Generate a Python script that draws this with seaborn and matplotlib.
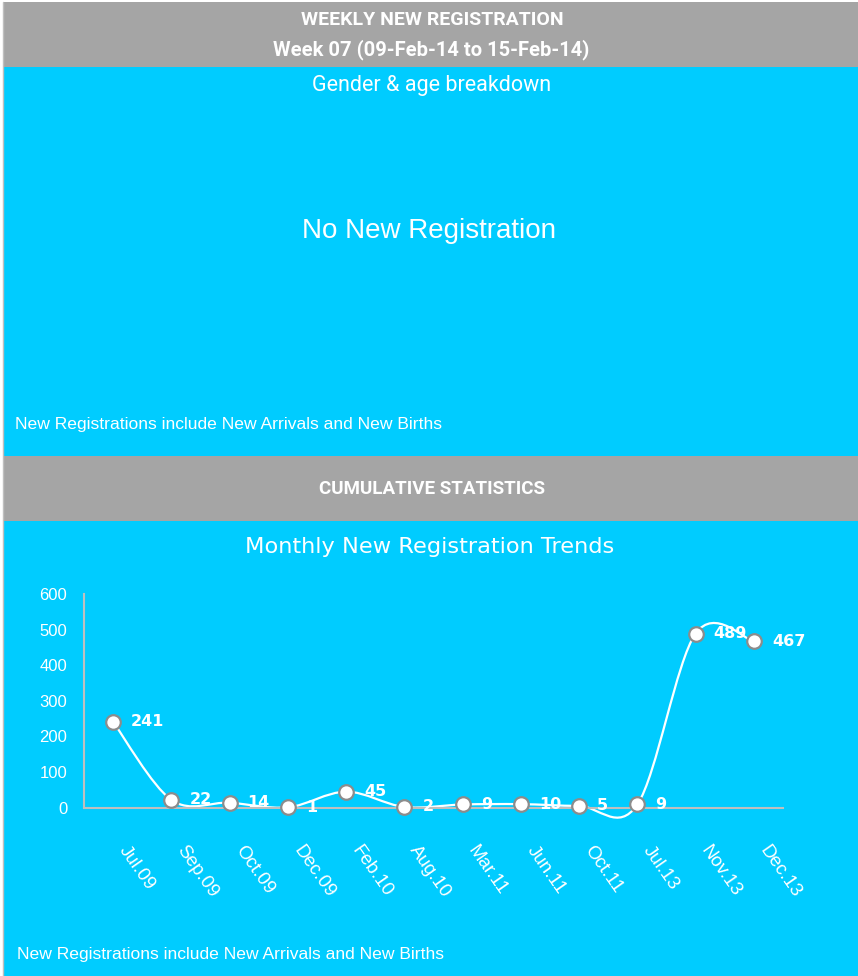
import numpy as np
import pandas as pd
import seaborn as sns
import matplotlib
matplotlib.use("Agg")
import matplotlib.pyplot as plt
from matplotlib.patches import Rectangle, PathPatch
from matplotlib.path import Path
from matplotlib.transforms import ScaledTranslation

# data
months = ["Jul.09", "Sep.09", "Oct.09", "Dec.09", "Feb.10", "Aug.10",
          "Mar.11", "Jun.11", "Oct.11", "Jul.13", "Nov.13", "Dec.13"]
registrations = [241, 22, 14, 1, 45, 2, 9, 10, 5, 9, 489, 467]
y_ticks = [0, 100, 200, 300, 400, 500, 600]

df = pd.DataFrame({"month": months, "count": registrations})

CYAN = "#00CCFF"
GREY = "#A5A5A5"
W, H = 858, 976

sns.set_style("white")
plt.rcParams["font.family"] = ["Liberation Sans", "DejaVu Sans"]
NARROW = ["Roboto", "DejaVu Sans"]

fig = plt.figure(figsize=(W / 100, H / 100), dpi=100)
fig.patch.set_facecolor("white")


def fx(x):
    return x / W


def fy(y):
    return 1 - y / H


def band(y0, y1, color):
    fig.add_artist(Rectangle((fx(4), fy(y1)), fx(W - 4), (y1 - y0) / H,
                             transform=fig.transFigure, color=color, lw=0, zorder=0))


# page background blocks
band(2, 67, GREY)
band(67, 456, CYAN)
band(456, 521, GREY)
band(521, H, CYAN)
fig.add_artist(plt.Line2D([fx(2.5), fx(2.5)], [0, fy(2)], transform=fig.transFigure,
                          color="#BFBFBF", lw=1))

# header texts
fig.text(fx(432), fy(20), "WEEKLY NEW REGISTRATION", ha="center", va="center",
         color="white", fontsize=14, fontweight="bold", family=NARROW)
fig.text(fx(431), fy(50), "Week 07 (09-Feb-14 to 15-Feb-14)", ha="center", va="center",
         color="white", fontsize=14.5, fontweight="bold", family=NARROW)
fig.text(fx(432), fy(85), "Gender & age breakdown", ha="center", va="center",
         color="white", fontsize=15.5, family=NARROW)
fig.text(fx(428.5), fy(231), "No New Registration", ha="center", va="center",
         color="white", fontsize=20)
fig.text(fx(15), fy(425), "New Registrations include New Arrivals and New Births",
         ha="left", va="center", color="white", fontsize=12.6)
fig.text(fx(432), fy(489), "CUMULATIVE STATISTICS", ha="center", va="center",
         color="white", fontsize=13.5, fontweight="bold", family=NARROW)
fig.text(fx(430), fy(547), "Monthly New Registration Trends", ha="center", va="center",
         color="white", fontsize=16.2, family=["DejaVu Sans"])
fig.text(fx(17), fy(955), "New Registrations include New Arrivals and New Births",
         ha="left", va="center", color="white", fontsize=12.6)

# chart
ax = fig.add_axes([fx(84), fy(807.7), fx(699), 213.7 / H])
ax.set_facecolor("none")

# smoothed line (Excel-like bezier through the points)
xs = np.arange(len(registrations), dtype=float)
ys = np.array(registrations, dtype=float)
verts = [(xs[0], ys[0])]
codes = [Path.MOVETO]
n = len(xs)
for i in range(n - 1):
    p0 = np.array([xs[max(i - 1, 0)], ys[max(i - 1, 0)]])
    p1 = np.array([xs[i], ys[i]])
    p2 = np.array([xs[i + 1], ys[i + 1]])
    p3 = np.array([xs[min(i + 2, n - 1)], ys[min(i + 2, n - 1)]])
    c1 = p1 + (p2 - p0) / 6
    c2 = p2 - (p3 - p1) / 6
    verts += [tuple(c1), tuple(c2), tuple(p2)]
    codes += [Path.CURVE4] * 3
ax.add_patch(PathPatch(Path(verts, codes), facecolor="none", edgecolor="white",
                       lw=1.6, zorder=2, clip_on=False))

sns.scatterplot(data=df, x="month", y="count", ax=ax, s=110, color="white",
                edgecolor="#8C8C8C", linewidth=1.6, zorder=3, clip_on=False)

for i, v in enumerate(registrations):
    ax.annotate(str(v), (i, v), xytext=(13, 0), textcoords="offset points",
                ha="left", va="center", color="white", fontsize=11.5,
                fontweight="bold", family=["DejaVu Sans"], zorder=4)

ax.set_xlim(-0.5, len(months) - 0.5)
ax.set_ylim(0, 600)
ax.set_yticks(y_ticks)
ax.set_xlabel("")
ax.set_ylabel("")

for s in ["top", "right"]:
    ax.spines[s].set_visible(False)
for s in ["left", "bottom"]:
    ax.spines[s].set_color("#BFBFBF")
    ax.spines[s].set_linewidth(1.5)

ax.tick_params(axis="y", length=0, pad=12, labelsize=12, labelcolor="white")
ax.tick_params(axis="x", length=0, pad=25, labelsize=13.5, labelcolor="white")
offset = ScaledTranslation(16 / 100, 0, fig.dpi_scale_trans)
for lbl in ax.get_xticklabels():
    lbl.set_rotation(-55)
    lbl.set_ha("left")
    lbl.set_va("top")
    lbl.set_rotation_mode("anchor")
    lbl.set_transform(lbl.get_transform() + offset)

fig.savefig("out.png", dpi=100, facecolor=fig.get_facecolor())
